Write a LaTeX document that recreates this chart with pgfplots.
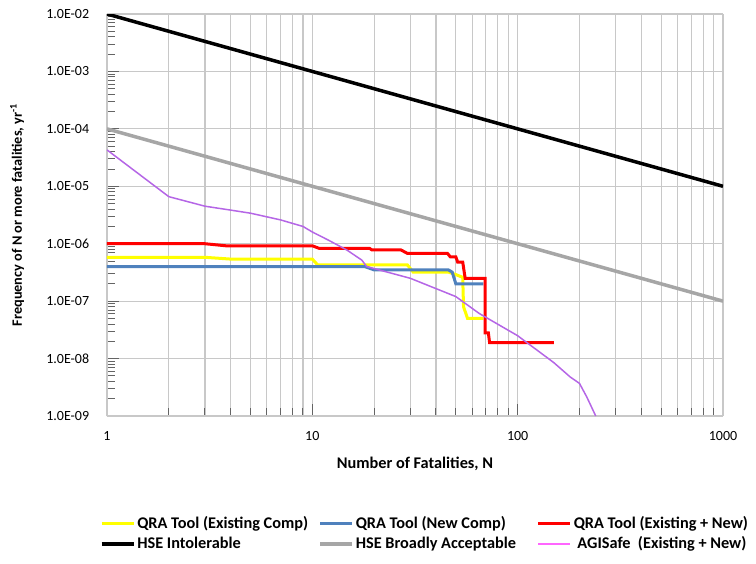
\documentclass[border=0pt]{standalone}
\usepackage{pgfplots}
\pgfplotsset{compat=1.18}
\usepackage{fontspec}
\setmainfont{Carlito}
\definecolor{qyel}{RGB}{255,255,0}
\definecolor{qblue}{RGB}{79,129,189}
\definecolor{qred}{RGB}{255,0,0}
\definecolor{hgray}{RGB}{166,166,166}
\definecolor{agi}{RGB}{181,102,230}
\definecolor{agileg}{RGB}{255,102,255}
\definecolor{gridc}{RGB}{200,200,200}
\definecolor{axc}{RGB}{134,134,134}
\definecolor{tickc}{RGB}{100,100,100}
\begin{document}
\fontsize{14}{17}\selectfont
\begin{tikzpicture}
\path[use as bounding box] (0,0) rectangle (756pt,563pt);
\begin{axis}[
  at={(107pt,147pt)}, anchor=south west,
  scale only axis, width=616pt, height=402pt,
  xmode=log, ymode=log,
  xmin=1, xmax=1000, ymin=1e-9, ymax=1e-2,
  separate axis lines,
  every outer x axis line/.append style={axc, line width=1.5pt},
  every outer y axis line/.append style={axc, line width=1.5pt},
  axis line style={gridc, line width=1.2pt},
  xtick pos=bottom, ytick pos=left,
  xtick={1,10,100,1000},
  xticklabels={1,10,100,1000},
  minor xtick={2,3,4,5,6,7,8,9,20,30,40,50,60,70,80,90,200,300,400,500,600,700,800,900},
  ytick={1e-9,1e-8,1e-7,1e-6,1e-5,1e-4,1e-3,1e-2},
  yticklabels={1.0E-09,1.0E-08,1.0E-07,1.0E-06,1.0E-05,1.0E-04,1.0E-03,1.0E-02},
  minor ytick={2e-9,3e-9,4e-9,5e-9,6e-9,7e-9,8e-9,9e-9,
    2e-8,3e-8,4e-8,5e-8,6e-8,7e-8,8e-8,9e-8,
    2e-7,3e-7,4e-7,5e-7,6e-7,7e-7,8e-7,9e-7,
    2e-6,3e-6,4e-6,5e-6,6e-6,7e-6,8e-6,9e-6,
    2e-5,3e-5,4e-5,5e-5,6e-5,7e-5,8e-5,9e-5,
    2e-4,3e-4,4e-4,5e-4,6e-4,7e-4,8e-4,9e-4,
    2e-3,3e-3,4e-3,5e-3,6e-3,7e-3,8e-3,9e-3},
  xmajorgrids, xminorgrids, ymajorgrids,
  grid style={gridc, line width=1.2pt},
  minor grid style={gridc, line width=1.2pt},
  tick align=inside,
  major tick length=12pt, minor tick length=8pt,
  major tick style={tickc, line width=1.2pt},
  minor tick style={tickc, line width=1pt},
  xticklabel style={yshift=-11pt},
  yticklabel style={xshift=-13pt},
  xlabel={\fontsize{16.3}{19}\selectfont\textbf{Number of Fatalities, N}},
  ylabel={\fontsize{14.3}{17}\selectfont\textbf{Frequency of N or more fatalities, yr\textsuperscript{-1}}},
  xlabel style={at={(axis description cs:0.5,-0.12)}, anchor=center},
  ylabel style={at={(axis description cs:-0.146,0.5)}, anchor=center},
  legend columns=3,
  legend cell align=left,
  legend style={at={(axis description cs:-0.012,-0.245)}, anchor=north west,
    draw=none, fill=none, inner sep=0pt, row sep=2pt,
    nodes={inner sep=2pt}, font=\fontsize{16.3}{19}\selectfont\bfseries},
  legend image code/.code={\draw[#1] (0pt,0pt) -- (32pt,0pt);},
]
\addplot[qyel, line width=3pt] coordinates {
(1,5.8e-7) (3,5.8e-7) (4,5.4e-7) (10,5.4e-7) (10.6,4.3e-7) (29,4.3e-7)
(31,3.2e-7) (46,3.2e-7) (50,2.9e-7) (54,2.6e-7) (54.5,8e-8) (57,5e-8) (68,5e-8)};
\addlegendentry{\makebox[179pt][l]{QRA Tool (Existing Comp)}}
\addplot[qblue, line width=3pt] coordinates {
(1,4.0e-7) (18,4.0e-7) (20,3.5e-7) (46,3.5e-7) (48,3.2e-7) (50,2.0e-7) (68,2.0e-7)};
\addlegendentry{\makebox[179pt][l]{QRA Tool (New Comp)}}
\addplot[qred, line width=3pt] coordinates {
(1,1.0e-6) (3,1.0e-6) (3.8,9.2e-7) (10,9.2e-7) (10.8,8.3e-7) (19,8.3e-7)
(19.5,7.8e-7) (27,7.8e-7) (29,6.8e-7) (45.5,6.8e-7) (47,5.9e-7) (50,5.9e-7)
(51,4.8e-7) (54,4.8e-7) (55.5,2.5e-7) (69.5,2.5e-7) (69.5,2.8e-8) (72,2.8e-8)
(73,1.9e-8) (150,1.9e-8)};
\addlegendentry{QRA Tool (Existing + New)}
\addplot[black, line width=3.5pt] coordinates {(1,1e-2) (1000,1e-5)};
\addlegendentry{\makebox[179pt][l]{HSE Intolerable}}
\addplot[hgray, line width=3.5pt] coordinates {(1,1e-4) (1000,1e-7)};
\addlegendentry{\makebox[179pt][l]{HSE Broadly Acceptable}}
\addlegendimage{agileg, line width=2pt}
\addlegendentry{\ AGISafe\ \ (Existing + New)}
\addplot[agi, line width=1.5pt, forget plot] coordinates {
(1,4.3e-5) (2,6.6e-6) (3,4.5e-6) (4,3.85e-6) (5,3.4e-6) (7,2.6e-6) (9,2.0e-6)
(10,1.6e-6) (12,1.15e-6) (14.7,7.8e-7) (17.4,5.2e-7) (18.4,4.0e-7) (30,2.5e-7)
(50,1.2e-7) (65,6.1e-8) (100,2.5e-8) (150,8.5e-9) (180,4.8e-9) (200,3.7e-9)
(217,2.15e-9) (240,1.0e-9)};
\end{axis}
\end{tikzpicture}
\end{document}
